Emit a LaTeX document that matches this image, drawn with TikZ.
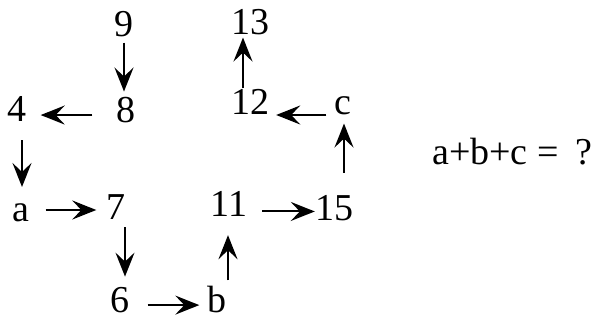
\documentclass[tikz,border=0pt]{standalone}
\usepackage{fontspec}
\setmainfont{Liberation Serif}
\usetikzlibrary{arrows.meta}
\begin{document}
\begin{tikzpicture}[x=1pt,y=-1pt,
  lbl/.style={anchor=base,inner sep=0pt,font=\fontsize{38}{40}\selectfont},
  arr/.style={-{Stealth[length=24pt,width=19pt,inset=9pt]},line width=2pt}]
\useasboundingbox (0,0) rectangle (606,320);
\node[lbl] (n9)  at (124,37)  {9};
\node[lbl] (n8)  at (126,123) {8};
\node[lbl] (n4)  at (17,122)  {4};
\node[lbl] (na)  at (21,222)  {a};
\node[lbl] (n7)  at (116,220) {7};
\node[lbl] (n6)  at (120,313) {6};
\node[lbl] (nb)  at (217,313) {b};
\node[lbl] (n11) at (229,217) {11};
\node[lbl] (n15) at (334,221) {15};
\node[lbl] (nc)  at (343,115) {c};
\node[lbl] (n12) at (250,115) {12};
\node[lbl] (n13) at (250,35)  {13};
\node[lbl,anchor=base west] (eq) at (432,165) {a+b+c = \hspace{0.2em}?};
% arrows
\draw[arr,shorten <=5pt,shorten >=6pt] (n9.south) -- (n9.south |- n8.north);
\draw[arr,shorten <=24pt,shorten >=14pt] ([yshift=-4.5pt]n8.west) -- ([yshift=-4.5pt]n8.west -| n4.east);
\draw[arr,shorten <=18pt,shorten >=17pt] ([xshift=5pt]n4.south) -- ([xshift=5pt]n4.south |- na.north);
\draw[arr,shorten <=16pt,shorten >=10pt] ([yshift=12pt]na.base east) -- ([yshift=12pt]na.base east -| n7.west);
\draw[arr,shorten <=7pt,shorten >=11pt] ([xshift=9pt]n7.south) -- ([xshift=9pt]n7.south |- n6.north);
\draw[arr,shorten <=18pt,shorten >=8pt] ([yshift=-4.5pt]n6.east) -- ([yshift=-4.5pt]n6.east -| nb.west);
\draw[arr,shorten <=6pt,shorten >=18pt] ([xshift=11pt]nb.north) -- ([xshift=11pt]nb.north |- n11.south);
\draw[arr,shorten <=15pt,shorten >=0pt] ([yshift=-7pt]n11.east) -- ([yshift=-7pt]n11.east -| n15.west);
\draw[arr,shorten <=23pt,shorten >=8pt] ([xshift=10pt]n15.north) -- ([xshift=10pt]n15.north |- nc.south);
\draw[arr,shorten <=8pt,shorten >=7pt] (nc.base west) -- (nc.base west -| n12.east);
\draw[arr,shorten <=2pt,shorten >=2pt] ([xshift=-7pt]n12.north) -- ([xshift=-7pt]n12.north |- n13.south);
\end{tikzpicture}
\end{document}
